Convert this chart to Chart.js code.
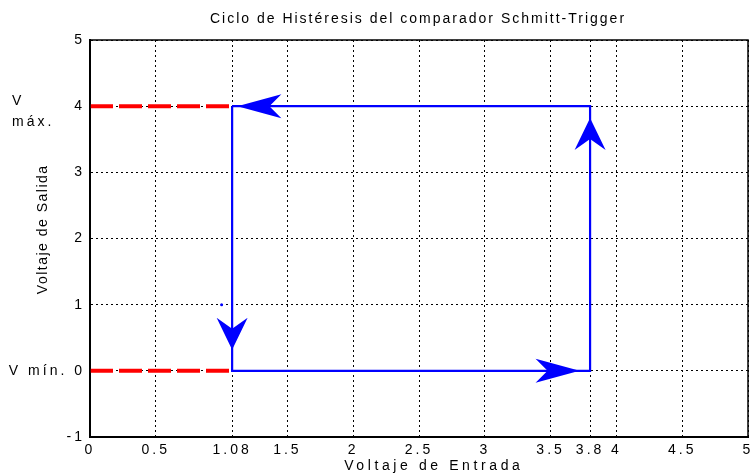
<!DOCTYPE html>
<html><head><meta charset="utf-8">
<script src="https://cdn.jsdelivr.net/npm/chart.js@4"></script>
<style>html,body{margin:0;padding:0;background:#fff;overflow:hidden}#wrap{width:752px;height:475px;position:relative}</style>
</head><body><div id="wrap"><canvas id="c"></canvas></div>
<script>
const TITLE = 'Ciclo de Histéresis del comparador Schmitt-Trigger';
const X_LABEL = 'Voltaje de Entrada';
const Y_LABEL = 'Voltaje de Salida';
const xTicks = [0, 0.5, 1.08, 1.5, 2, 2.5, 3, 3.5, 3.8, 4, 4.5, 5];
const xTickLabels = ['0', '0.5', '1.08', '1.5', '2', '2.5', '3', '3.5', '3.8', '4', '4.5', '5'];
const yTicks = [-1, 0, 1, 2, 3, 4, 5];
const yTickLabels = ['-1', 'V mín. 0', '1', '2', '3', '4', '5'];
const vMaxLabel = ['V', 'máx.'];
const vMaxValue = 4;
const loopX = [1.08, 1.08, 3.8, 3.8, 1.08];
const loopY = [4, 0, 0, 4, 4];
const satHighX = [0, 1.08];
const satHighY = [4, 4];
const satLowX = [0, 1.08];
const satLowY = [0, 0];
const arrowX = [1.12, 1.08, 3.72, 3.8];
const arrowY = [4, 0.32, 0, 3.82];
const arrowDir = ['left', 'down', 'right', 'up'];
const dotX = [1.0];
const dotY = [1.0];

const FONT = "'Liberation Sans Narrow', 'Liberation Sans', Arial, sans-serif";
const SPACING = '3px';
const pts = (xs, ys) => xs.map((x, i) => ({x, y: ys[i]}));

const spacingPlugin = {
  id: 'spacing',
  beforeLayout(chart) { chart.ctx.letterSpacing = SPACING; },
  beforeDraw(chart) { chart.ctx.letterSpacing = SPACING; }
};

function spacedText(ctx, text, x, y, spacing) {
  ctx.letterSpacing = spacing + 'px';
  const w = ctx.measureText(text).width - spacing;
  ctx.textAlign = 'left';
  ctx.fillText(text, x - w / 2, y);
}

const framePlugin = {
  id: 'frame',
  afterDraw(chart) {
    const {ctx, chartArea: a, scales} = chart;
    ctx.save();
    ctx.strokeStyle = '#000';
    ctx.lineWidth = 1.5;
    ctx.strokeRect(a.left, a.top, a.right - a.left, a.bottom - a.top);
    ctx.fillStyle = '#000';
    ctx.textBaseline = 'middle';
    ctx.font = '14px ' + FONT;
    spacedText(ctx, TITLE, 417, 19, 2);
    spacedText(ctx, X_LABEL, 432, 466, 3.6);
    ctx.save();
    ctx.translate(43, 230);
    ctx.rotate(-Math.PI / 2);
    spacedText(ctx, Y_LABEL, 0, 0, 1.5);
    ctx.restore();
    ctx.letterSpacing = SPACING;
    ctx.textAlign = 'left';
    const yv = scales.y.getPixelForValue(vMaxValue);
    ctx.fillText(vMaxLabel[0], 12, yv - 5);
    ctx.fillText(vMaxLabel[1], 12, yv + 16);
    ctx.restore();
  }
};

const SHAPES = {
  h: {len: 44, half: 12, notch: 32},
  v: {len: 32, half: 15.5, notch: 21}
};
const arrowPlugin = {
  id: 'arrows',
  afterDatasetsDraw(chart) {
    const {ctx, scales} = chart;
    ctx.save();
    ctx.fillStyle = '#0000ff';
    arrowX.forEach((xv, i) => {
      const px = scales.x.getPixelForValue(xv);
      const py = scales.y.getPixelForValue(arrowY[i]);
      const d = arrowDir[i];
      const s = (d === 'left' || d === 'right') ? SHAPES.h : SHAPES.v;
      const ang = {right: 0, down: Math.PI / 2, left: Math.PI, up: -Math.PI / 2}[d];
      ctx.save();
      ctx.translate(px, py);
      ctx.rotate(ang);
      ctx.beginPath();
      ctx.moveTo(0, 0);
      ctx.lineTo(-s.len, -s.half);
      ctx.lineTo(-s.notch, 0);
      ctx.lineTo(-s.len, s.half);
      ctx.closePath();
      ctx.fill();
      ctx.restore();
    });
    ctx.restore();
  }
};

new Chart(document.getElementById('c'), {
  type: 'scatter',
  data: {
    datasets: [
      {data: pts(loopX, loopY), showLine: true, borderColor: '#0000ff', borderWidth: 2.2, pointRadius: 0, fill: false, tension: 0},
      {data: pts(dotX, dotY), showLine: false, pointRadius: 1.5, pointBackgroundColor: '#0000ff', pointBorderWidth: 0},
      {data: pts(satHighX, satHighY), showLine: true, borderColor: '#ff0000', borderWidth: 4, borderDash: [23, 6], pointRadius: 0},
      {data: pts(satLowX, satLowY), showLine: true, borderColor: '#ff0000', borderWidth: 4, borderDash: [23, 6], pointRadius: 0}
    ]
  },
  options: {
    responsive: true,
    maintainAspectRatio: false,
    animation: false,
    layout: {padding: {top: 40, right: 1, left: 0, bottom: 0}},
    plugins: {legend: {display: false}, tooltip: {enabled: false}, title: {display: false}},
    scales: {
      x: {
        type: 'linear', min: 0, max: 5,
        afterBuildTicks: s => { s.ticks = xTicks.map(v => ({value: v})); },
        afterFit: s => { s.height = 38; s.paddingLeft = 0; s.paddingRight = 0; },
        ticks: {
          autoSkip: false, maxRotation: 0, padding: 5, color: '#000',
          font: {family: FONT, size: 14},
          callback: v => xTickLabels[xTicks.indexOf(v)]
        },
        grid: {color: '#000', lineWidth: 1, drawTicks: false},
        border: {display: true, color: '#000', width: 2, dash: [2, 3]},
        title: {display: false}
      },
      y: {
        type: 'linear', min: -1, max: 5,
        afterBuildTicks: s => { s.ticks = yTicks.map(v => ({value: v})); },
        afterFit: s => { s.width = 90; },
        ticks: {
          autoSkip: false, padding: 5, color: '#000',
          font: {family: FONT, size: 14},
          callback: v => yTickLabels[yTicks.indexOf(v)]
        },
        grid: {color: '#000', lineWidth: 1, drawTicks: false},
        border: {display: true, color: '#000', width: 2, dash: [2, 3]},
        title: {display: false}
      }
    }
  },
  plugins: [spacingPlugin, arrowPlugin, framePlugin]
});
</script>
</body></html>
